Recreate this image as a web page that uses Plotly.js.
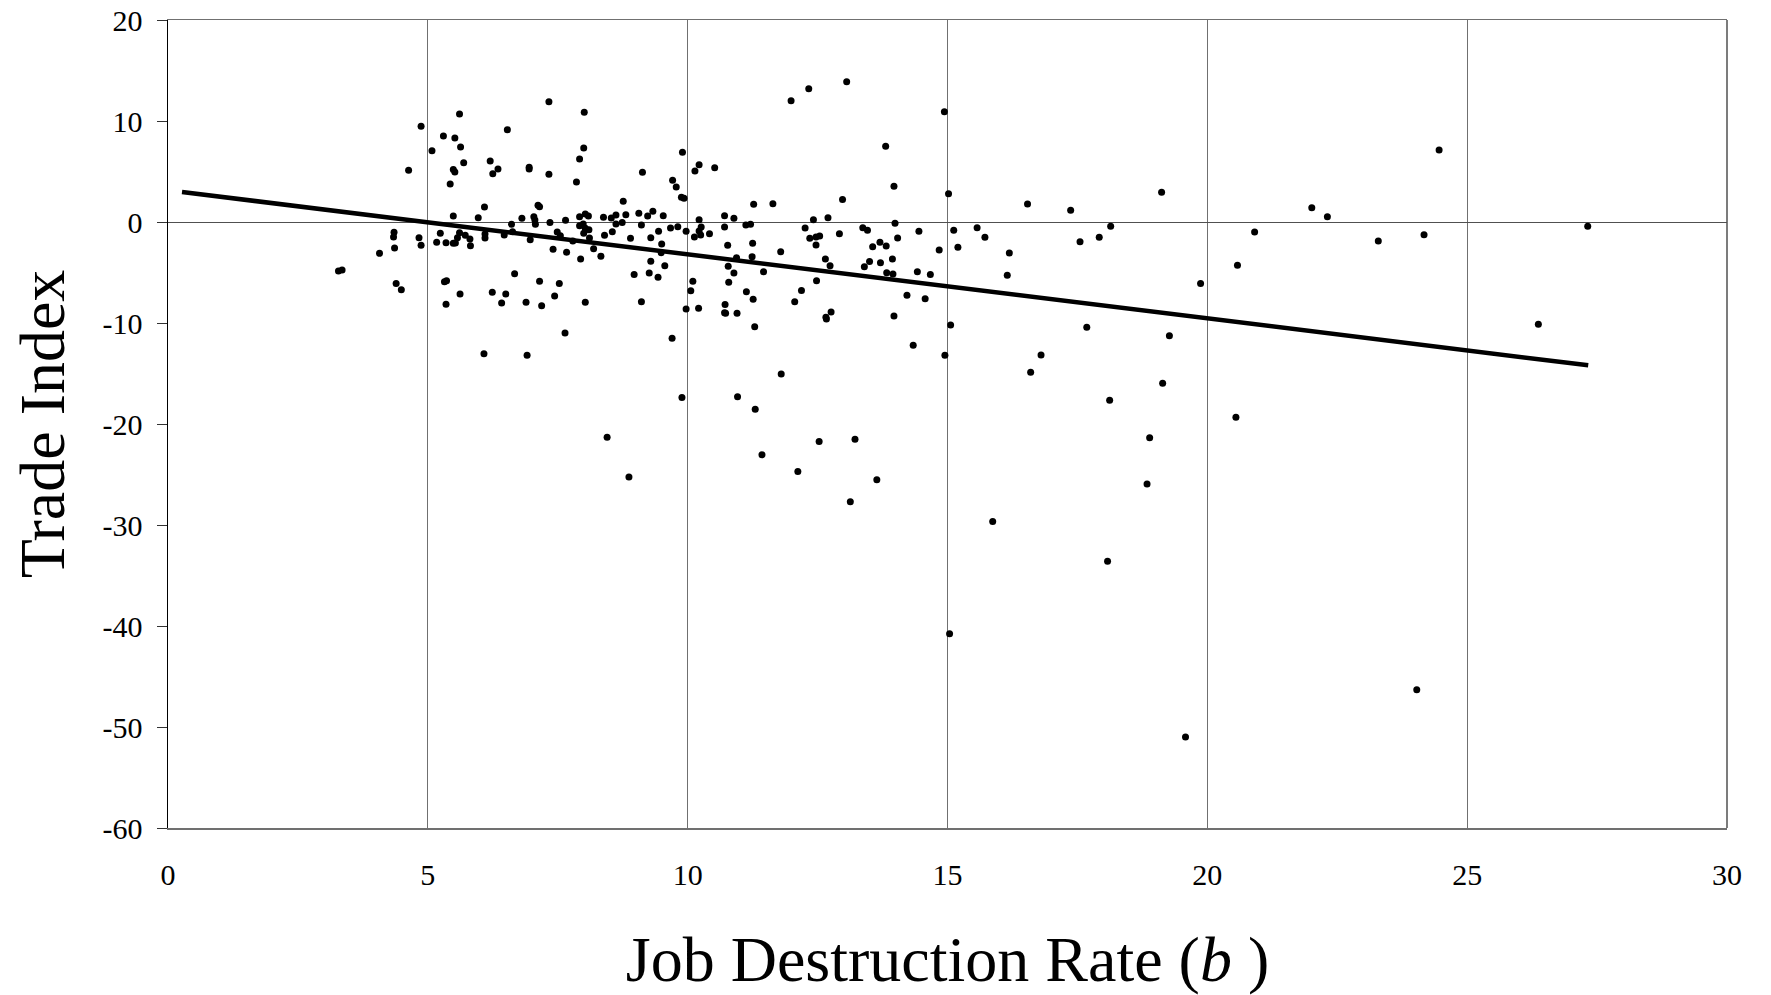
<!DOCTYPE html>
<html>
<head>
<meta charset="utf-8">
<script src="https://cdn.plot.ly/plotly-3.0.1.min.js"></script>
<style>html,body{margin:0;padding:0;background:#fff;}#chart{width:1771px;height:995px;}</style>
</head>
<body>
<div id="chart"></div>
<script>
// Job destruction rate (b) for each observation
const destructionRate = [
7.33,8.01,5.61,4.87,6.53,5.30,5.52,5.63,8.00,5.08,7.92,6.20,5.69,6.95,6.95,6.35,6.25,5.49,5.52,4.63,
7.33,5.43,7.86,6.09,7.12,7.15,5.49,5.97,6.81,7.04,7.06,7.07,7.35,7.65,6.61,7.92,8.03,8.09,7.92,7.99,
8.03,8.10,8.00,8.38,8.53,8.62,8.62,8.55,8.40,8.11,8.19,8.33,7.94,7.67,7.41,7.49,7.55,7.79,6.97,6.47,
6.63,6.10,6.10,5.61,5.72,5.81,5.57,5.82,5.53,5.49,5.35,5.17,5.24,4.83,4.87,4.35,4.34,4.36,4.07,3.28,
3.35,4.39,4.49,5.32,5.36,5.62,5.35,6.67,6.24,6.50,6.42,7.15,7.53,7.44,6.89,7.19,8.03,7.64,6.08,6.91,
13.06,12.33,11.99,13.81,13.97,9.90,10.22,10.14,10.52,9.13,9.71,9.78,9.88,9.93,8.76,12.98,11.27,11.64,8.81,9.06,
9.23,9.33,9.53,8.74,9.11,9.67,9.81,9.97,10.22,10.26,10.22,10.25,10.13,10.42,10.71,10.89,10.71,11.12,11.21,10.77,
11.25,10.94,11.24,10.78,10.89,10.79,11.46,11.79,11.13,11.26,10.72,10.71,10.73,10.95,11.29,10.21,9.97,10.06,10.10,8.90,
9.29,9.44,9.50,9.49,9.29,9.56,9.26,9.43,8.97,9.11,9.70,11.80,12.26,12.42,12.70,12.35,12.47,12.54,12.47,12.92,
12.65,12.74,12.48,12.19,12.06,12.76,12.66,12.67,13.37,13.46,13.56,13.70,13.82,13.99,14.04,13.94,13.71,13.50,13.40,13.83,
13.95,14.42,14.45,14.22,13.97,14.34,
14.94,15.02,16.54,17.37,19.12,15.12,15.57,15.72,15.20,14.84,16.19,16.15,14.67,14.57,15.06,14.95,16.80,16.60,17.55,17.92,
18.14,17.68,19.27,19.87,
24.46,22.01,22.31,20.91,20.58,23.29,24.17,27.32,26.37,
9.89,10.96,11.30,8.45,12.53,13.22,11.43,8.87,12.12,13.64,13.13,15.87,15.04,
19.14,18.12,20.55,18.89,18.84,18.08,24.03,19.58
];
// Trade index for each observation
const tradeIndex = [
11.90,10.86,10.70,9.47,9.14,8.51,8.32,7.43,7.33,7.06,6.24,6.04,5.87,5.41,5.25,5.25,4.78,5.21,4.95,5.12,
4.72,3.76,3.96,1.49,1.65,1.52,0.59,0.43,0.36,0.53,0.20,-0.23,-0.05,0.17,-0.23,0.53,0.79,0.59,-0.36,-0.20,
-0.63,-0.76,-1.12,0.46,0.40,0.69,-0.20,-0.96,-1.32,-1.58,-2.64,-3.40,-3.66,-3.00,-2.70,-0.99,-1.35,-1.88,-1.75,-1.29,
-0.96,-1.58,-1.19,-1.06,-1.32,-1.68,-1.55,-2.34,-2.08,-2.10,-2.05,-2.01,-1.12,-1.55,-2.31,-1.02,-1.48,-2.57,-3.10,-4.85,
-4.75,-6.10,-6.70,-5.91,-5.81,-7.13,-8.15,-5.12,-6.96,-7.13,-8.02,-5.87,-6.10,-7.33,-7.95,-8.28,-7.95,-10.99,-13.04,-13.20,
13.89,13.20,12.01,7.49,3.53,6.90,5.68,5.05,5.38,4.92,4.13,3.47,2.44,2.34,2.05,2.24,1.75,1.81,0.73,0.86,
0.59,1.06,0.63,-0.05,-0.30,-0.59,-0.46,-0.92,0.23,-0.49,-0.89,-1.29,-1.49,-1.16,0.63,0.36,-0.49,-0.30,-0.23,-2.31,
-2.11,-3.53,-3.43,-4.39,-5.05,-5.97,-4.92,-2.94,-6.90,-7.66,-8.18,-8.98,-9.04,-9.04,-10.36,-8.55,-8.61,-6.80,-5.87,-1.62,
-1.55,-0.92,-2.18,-3.04,-3.89,-4.32,-5.05,-5.48,-5.21,-7.89,-11.52,-15.05,-0.59,0.23,0.43,-1.62,-1.49,-1.39,-2.28,-1.16,
-3.66,-4.32,-5.81,-6.77,-7.89,-8.91,-9.44,-9.60,-0.56,-0.82,-2.44,-2.01,-2.38,-0.13,-1.58,-3.66,-4.03,-3.92,-4.42,-5.02,
-5.15,-4.92,-0.92,-7.26,-9.31,-12.21,
10.92,2.80,1.78,1.16,2.94,-0.82,-0.56,-1.52,-2.51,-2.77,-3.07,-5.28,-5.21,-7.59,-10.20,-13.20,-13.17,-14.88,-1.95,-1.52,
-0.43,-10.43,-11.25,-6.10,
7.13,1.42,0.53,-0.99,-4.29,-1.88,-1.26,-0.43,-10.13,
-17.37,-17.30,-18.55,-21.30,-21.73,-21.50,-23.05,-25.24,-24.70,-25.53,-27.71,-29.66,-40.77,
-15.97,-17.66,-19.32,-21.37,-25.93,-33.60,-46.30,-50.99
];
// Fitted regression line end points
const fitX = [0.27, 27.33];
const fitY = [2.97, -14.19];

// Axis ticks
const xTicks = [0, 5, 10, 15, 20, 25, 30];
const yTicks = [20, 10, 0, -10, -20, -30, -40, -50, -60];

const FONT = '"Liberation Serif", "Times New Roman", Times, serif';

const traces = [
  {
    x: destructionRate, y: tradeIndex, type: 'scatter', mode: 'markers',
    marker: {color: '#000', size: 7},
    hoverinfo: 'x+y', showlegend: false
  },
  {
    x: fitX, y: fitY, type: 'scatter', mode: 'lines',
    line: {color: '#000', width: 4.5},
    hoverinfo: 'skip', showlegend: false
  }
];

const layout = {
  width: 1771, height: 995,
  margin: {l: 168, r: 44, t: 20, b: 167, pad: 0},
  paper_bgcolor: '#fff', plot_bgcolor: '#fff',
  font: {family: FONT, color: '#000', size: 30},
  showlegend: false,
  xaxis: {
    range: [0, 30], tickvals: xTicks, ticktext: xTicks.map(String),
    showgrid: true, gridcolor: '#707070', gridwidth: 1,
    zeroline: false,
    showline: true, linecolor: '#707070', linewidth: 1.5, mirror: true,
    ticks: '', ticklabelstandoff: 19,
    tickfont: {family: FONT, size: 30, color: '#000'},
    title: {text: 'Job Destruction Rate (<i>b</i> )', font: {family: FONT, size: 64, color: '#000'}, standoff: 46},
    fixedrange: true
  },
  yaxis: {
    range: [-60, 20], tickvals: yTicks, ticktext: yTicks.map(String),
    showgrid: false,
    zeroline: true, zerolinecolor: '#505050', zerolinewidth: 1,
    showline: true, linecolor: '#000', linewidth: 1.5,
    ticks: 'outside', ticklen: 10, tickwidth: 1, tickcolor: '#333',
    ticklabelstandoff: 8,
    tickfont: {family: FONT, size: 30, color: '#000'},
    title: {text: 'Trade Index', font: {family: FONT, size: 64, color: '#000'}, standoff: 17},
    fixedrange: true
  },
  shapes: [
    {type: 'line', xref: 'paper', yref: 'paper', x0: 1, x1: 1, y0: 0, y1: 1,
     line: {color: '#505050', width: 1.5}}
  ]
};

Plotly.newPlot('chart', traces, layout, {displayModeBar: false, staticPlot: true});
</script>
</body>
</html>
